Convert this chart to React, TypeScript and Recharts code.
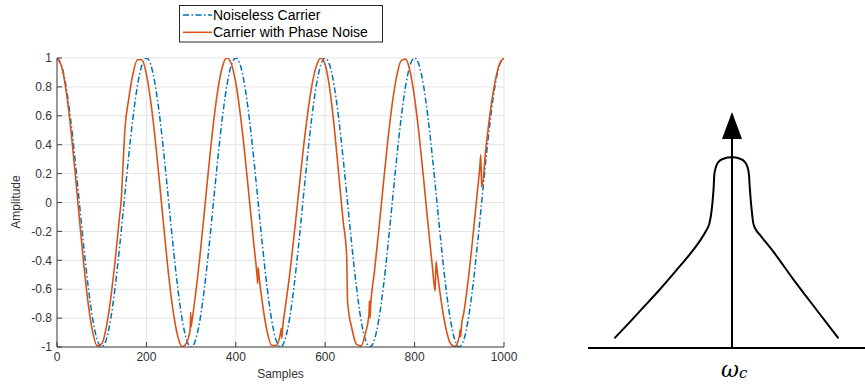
import React from 'react';
import { LineChart, Line, XAxis, YAxis, CartesianGrid, ReferenceLine, Label } from 'recharts';

// noiseless carrier, one value every 10 samples
const noiselessStep = 10;
const noiselessAmp = [
  1, 0.951, 0.809, 0.588, 0.309, 0, -0.309, -0.588, -0.809, -0.951,
  -1, -0.951, -0.809, -0.588, -0.309, 0, 0.309, 0.588, 0.809, 0.951,
  1, 0.951, 0.809, 0.588, 0.309, 0, -0.309, -0.588, -0.809, -0.951,
  -1, -0.951, -0.809, -0.588, -0.309, 0, 0.309, 0.588, 0.809, 0.951,
  1, 0.951, 0.809, 0.588, 0.309, 0, -0.309, -0.588, -0.809, -0.951,
  -1, -0.951, -0.809, -0.588, -0.309, 0, 0.309, 0.588, 0.809, 0.951,
  1, 0.951, 0.809, 0.588, 0.309, 0, -0.309, -0.588, -0.809, -0.951,
  -1, -0.951, -0.809, -0.588, -0.309, 0, 0.309, 0.588, 0.809, 0.951,
  1, 0.951, 0.809, 0.588, 0.309, 0, -0.309, -0.588, -0.809, -0.951,
  -1, -0.951, -0.809, -0.588, -0.309, 0, 0.309, 0.588, 0.809, 0.951,
  1,
];

// carrier with phase noise: [sample, amplitude]
const noisyCarrier: [number, number][] = [
  [0, 1], [10, 0.944], [20, 0.782], [30, 0.533], [40, 0.224], [50, -0.11], [60, -0.431], [70, -0.705],
  [80, -0.899], [90, -0.993], [100, -0.979], [110, -0.867], [120, -0.668], [130, -0.403], [140, -0.094],
  [144, 0.031], [148, 0.279], [152, 0.509], [160, 0.707], [170, 0.891], [180, 0.988], [190, 0.988],
  [200, 0.887], [210, 0.693], [220, 0.429], [230, 0.118], [240, -0.203], [250, -0.509], [260, -0.756],
  [270, -0.925], [280, -0.998], [290, -0.969], [298, -0.876], [299, -0.76], [300, -0.86], [302, -0.82],
  [310, -0.635], [320, -0.362], [330, -0.054], [340, 0.26], [350, 0.549], [360, 0.783], [370, 0.939],
  [380, 1], [390, 0.96], [400, 0.827], [410, 0.613], [420, 0.339], [430, 0.031], [440, -0.279],
  [446, -0.454], [448, -0.522], [449, -0.56], [450, -0.45], [452, -0.509], [460, -0.707], [470, -0.891],
  [480, -0.988], [490, -0.99], [500, -0.905], [502, -0.87], [503, -0.94], [505, -0.86], [510, -0.742],
  [520, -0.512], [530, -0.24], [540, 0.054], [550, 0.342], [560, 0.598], [570, 0.805], [580, 0.942],
  [590, 0.999], [600, 0.954], [610, 0.79], [620, 0.528], [630, 0.203], [640, -0.125], [648, -0.368],
  [650, -0.685], [660, -0.876], [670, -0.982], [680, -0.992], [690, -0.905], [698, -0.77], [699, -0.68],
  [700, -0.8], [702, -0.7], [710, -0.482], [720, -0.187], [730, 0.125], [740, 0.426], [750, 0.685],
  [760, 0.876], [770, 0.982], [780, 0.992], [790, 0.905], [800, 0.723], [810, 0.471], [820, 0.168],
  [830, -0.148], [840, -0.451], [846, -0.613], [848, -0.408], [850, -0.46], [860, -0.693], [870, -0.87],
  [880, -0.974], [890, -0.997], [900, -0.927], [902, -0.88], [903, -0.93], [905, -0.85], [910, -0.766],
  [920, -0.533], [930, -0.249], [940, 0.063], [946, 0.249], [948, 0.33], [950, 0.107], [960, 0.391],
  [970, 0.643], [980, 0.836], [990, 0.958], [1000, 1],
];

const sampleTicks = [0, 200, 400, 600, 800, 1000];
const amplitudeTicks = [-1, -0.8, -0.6, -0.4, -0.2, 0, 0.2, 0.4, 0.6, 0.8, 1];

// sketch of the phase noise spectrum around the carrier: [offset, level]
const spectrumShape: [number, number][] = [
  [-0.817, 0.041], [-0.731, 0.096], [-0.616, 0.172], [-0.5, 0.249], [-0.384, 0.331], [-0.292, 0.398],
  [-0.222, 0.455], [-0.181, 0.496], [-0.157, 0.528], [-0.144, 0.571], [-0.134, 0.627], [-0.127, 0.684],
  [-0.123, 0.733], [-0.113, 0.764], [-0.095, 0.788], [-0.06, 0.802], [0, 0.808],
  [0.056, 0.802], [0.09, 0.788], [0.109, 0.764], [0.118, 0.733], [0.123, 0.684], [0.13, 0.627],
  [0.139, 0.571], [0.148, 0.528], [0.167, 0.5], [0.194, 0.479], [0.287, 0.408], [0.426, 0.291],
  [0.588, 0.161], [0.739, 0.041],
];
const carrierOffset = 0;
const carrierLevel = 1;

const BLUE = '#0072BD';
const ORANGE = '#D95319';
const AXIS = '#404040';
const FONT = "'Liberation Sans', Arial, Helvetica, sans-serif";
const DASH_DOT = '6 2.5 1.5 2.5';

const noiselessData = noiselessAmp.map((v, i) => ({ n: i * noiselessStep, v }));
const noisyData = noisyCarrier.map(([n, v]) => ({ n, v }));
const spectrumData = spectrumShape.map(([f, p]) => ({ f, p }));

const tickStyle = { fill: '#333', fontSize: 12, fontFamily: FONT };

const CarrierArrow = (props: any) => {
  const { x1, y1, y2 } = props;
  const top = Math.min(y1, y2);
  const bottom = Math.max(y1, y2);
  return (
    <g>
      <line x1={x1} y1={bottom} x2={x1} y2={top + 22} stroke="#000" strokeWidth={2} />
      <polygon points={`${x1},${top} ${x1 - 10},${top + 27} ${x1 + 10},${top + 27}`} fill="#000" />
    </g>
  );
};

const OmegaTick = (props: any) => {
  const { x, y } = props;
  return (
    <text x={x - 11} y={y + 29} fontFamily="'DejaVu Serif', serif" fontStyle="italic" fontSize={22} fill="#000">
      ω<tspan fontSize={15} dy={1}>c</tspan>
    </text>
  );
};

const CarrierLegend = () => (
  <svg width={206} height={40} style={{ position: 'absolute', left: 179, top: 5 }}>
    <rect x={0.5} y={0.5} width={203} height={36.5} fill="#fff" stroke="#262626" strokeWidth={1} />
    <line x1={4} y1={10} x2={33} y2={10} stroke={BLUE} strokeWidth={1.5} strokeDasharray={DASH_DOT} />
    <text x={34} y={15} fontSize={14} fontFamily={FONT} fill="#000">Noiseless Carrier</text>
    <line x1={4} y1={27.3} x2={33} y2={27.3} stroke={ORANGE} strokeWidth={1.5} />
    <text x={34} y={32} fontSize={14} fontFamily={FONT} fill="#000">Carrier with Phase Noise</text>
  </svg>
);

export default function App() {
  return (
    <div style={{ position: 'absolute', left: 0, top: 0, width: 865, height: 389, overflow: 'hidden', background: '#fff' }}>
      <div style={{ position: 'absolute', left: 0, top: 0 }}>
        <LineChart width={520} height={389} margin={{ top: 58, right: 16, bottom: 12, left: 0 }}>
          <CartesianGrid stroke="#e3e3e3" strokeWidth={1} />
          <XAxis
            dataKey="n"
            type="number"
            domain={[0, 1000]}
            ticks={sampleTicks}
            height={30}
            allowDataOverflow
            tick={tickStyle}
            tickSize={-5}
            tickMargin={10}
            stroke={AXIS}
          >
            <Label
              content={() => (
                <text x={280.5} y={378} textAnchor="middle" fontSize={12} fontFamily={FONT} fill="#333">
                  Samples
                </text>
              )}
            />
          </XAxis>
          <XAxis
            xAxisId="top"
            orientation="top"
            dataKey="n"
            type="number"
            domain={[0, 1000]}
            ticks={sampleTicks}
            height={0}
            allowDataOverflow
            tick={false}
            tickSize={-5}
            stroke={AXIS}
          />
          <YAxis
            type="number"
            domain={[-1, 1]}
            ticks={amplitudeTicks}
            width={57}
            allowDataOverflow
            tick={tickStyle}
            tickSize={-5}
            tickMargin={10}
            stroke={AXIS}
          >
            <Label
              content={() => (
                <text
                  x={20}
                  y={202}
                  transform="rotate(-90 20 202)"
                  textAnchor="middle"
                  fontSize={12}
                  fontFamily={FONT}
                  fill="#333"
                >
                  Amplitude
                </text>
              )}
            />
          </YAxis>
          <YAxis
            yAxisId="right"
            orientation="right"
            type="number"
            domain={[-1, 1]}
            ticks={amplitudeTicks}
            width={0}
            allowDataOverflow
            tick={false}
            tickSize={-5}
            stroke={AXIS}
          />
          <Line
            data={noiselessData}
            dataKey="v"
            type="monotone"
            stroke={BLUE}
            strokeWidth={1.5}
            strokeDasharray={DASH_DOT}
            dot={false}
            isAnimationActive={false}
          />
          <Line
            data={noisyData}
            dataKey="v"
            type="monotone"
            stroke={ORANGE}
            strokeWidth={1.6}
            dot={false}
            isAnimationActive={false}
          />
        </LineChart>
      </div>
      <CarrierLegend />
      <div style={{ position: 'absolute', left: 560, top: 0 }}>
        <LineChart width={316} height={389} margin={{ top: 112, right: 0, bottom: 0, left: 28 }}>
          <XAxis
            dataKey="f"
            type="number"
            domain={[-1, 1]}
            ticks={[carrierOffset]}
            height={41}
            tickLine={false}
            tickSize={0}
            tickMargin={0}
            axisLine={{ stroke: '#000', strokeWidth: 2 }}
            tick={<OmegaTick />}
          />
          <YAxis type="number" domain={[0, 1]} hide />
          <ReferenceLine
            segment={[{ x: carrierOffset, y: 0 }, { x: carrierOffset, y: carrierLevel }]}
            shape={<CarrierArrow />}
          />
          <Line
            data={spectrumData}
            dataKey="p"
            type="monotone"
            stroke="#000"
            strokeWidth={2}
            dot={false}
            isAnimationActive={false}
          />
        </LineChart>
      </div>
    </div>
  );
}
